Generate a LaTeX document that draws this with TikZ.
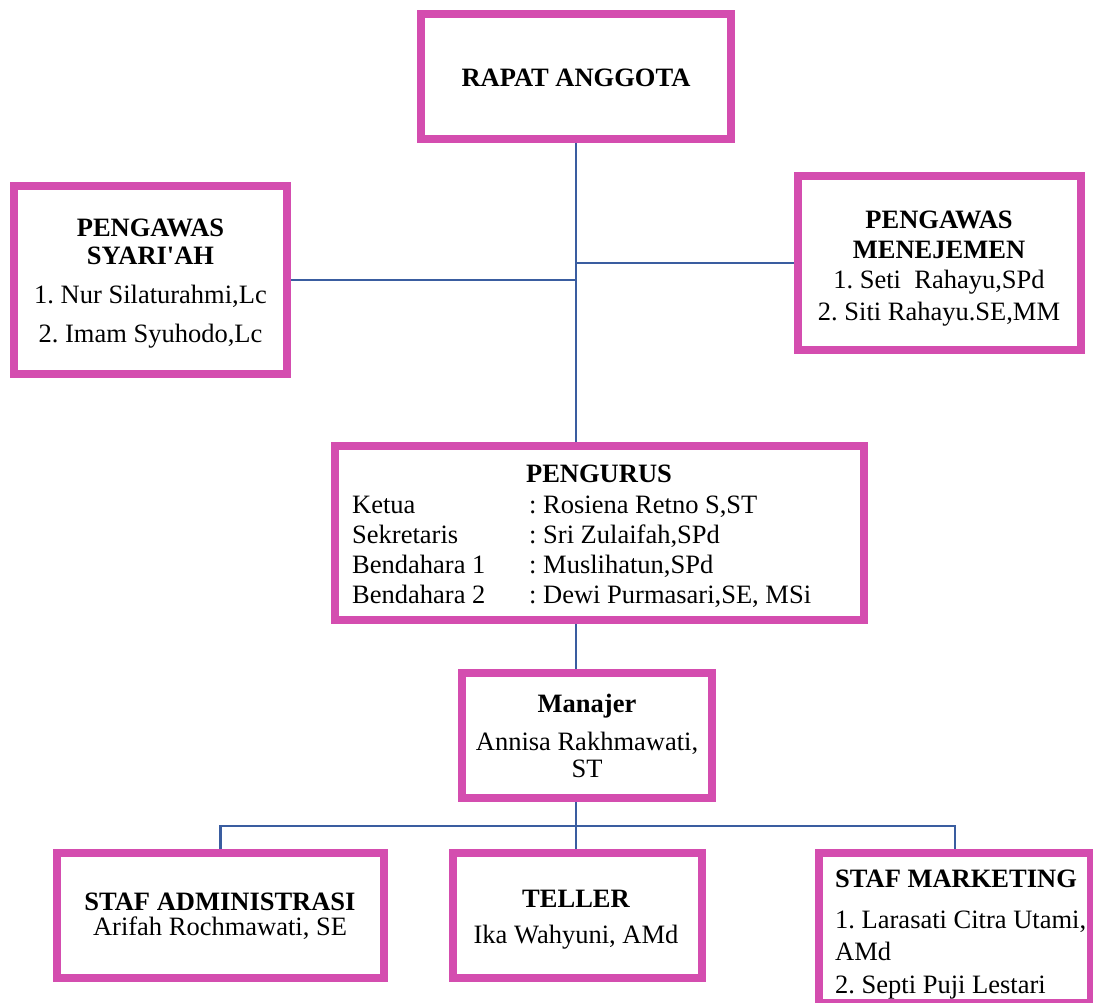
\documentclass[tikz,border=0pt]{standalone}
\usepackage{fontspec}
\setmainfont{Liberation Serif}
\definecolor{boxpink}{RGB}{212,77,175}
\definecolor{linkblue}{RGB}{58,93,160}
\frenchspacing
\begin{document}
\begin{tikzpicture}[x=1pt,y=-1pt,
  orgbox/.style={draw=boxpink, line width=8pt, fill=white, rectangle, inner sep=0pt, outer sep=4pt},
  link/.style={draw=linkblue, line width=2.5pt},
  txt/.style={anchor=base, inner sep=0pt, font=\fontsize{26.5}{30}\selectfont},
  btxt/.style={txt, font=\fontsize{26.5}{30}\selectfont\bfseries},
  ltxt/.style={txt, anchor=base west},
  lbtxt/.style={btxt, anchor=base west}]
\useasboundingbox (0,0) rectangle (1093,1002);
% boxes
\node[orgbox, minimum width=310pt, minimum height=125pt] (rapat) at (576,76.5) {};
\node[orgbox, minimum width=273pt, minimum height=188pt] (syariah) at (150.5,280) {};
\node[orgbox, minimum width=283pt, minimum height=174pt] (menej) at (939.5,263) {};
\node[orgbox, minimum width=529pt, minimum height=174pt] (pengurus) at (599.5,533) {};
\node[orgbox, minimum width=250pt, minimum height=125pt] (manajer) at (587,735.5) {};
\node[orgbox, minimum width=327pt, minimum height=125pt] (admin) at (220.5,915.5) {};
\node[orgbox, minimum width=249pt, minimum height=125pt] (teller) at (577.5,915.5) {};
\node[orgbox, minimum width=272pt, minimum height=150pt] (marketing) at (955,928) {};
% connectors
\coordinate (bus) at (576,826);
\draw[link] (rapat.south) -- (rapat.south |- pengurus.north);
\draw[link] (syariah.east) -- (syariah.east -| rapat.south);
\draw[link] (menej.west -| rapat.south) -- (menej.west);
\draw[link] (rapat.south |- pengurus.south) -- (rapat.south |- manajer.north);
\draw[link] (rapat.south |- manajer.south) -- (bus);
\draw[link] (admin.north) |- (bus) -| (marketing.north);
\draw[link] (bus) -- (bus |- teller.north);
% texts
\node[btxt] (t-rapat) at (576,86) {RAPAT ANGGOTA};
\node[btxt] (t-sy1) at (150.5,236) {PENGAWAS};
\node[btxt] (t-sy2) at (150.5,264) {SYARI\textquotesingle AH};
\node[txt] (t-sy3) at (150.5,303) {1. Nur Silaturahmi,Lc};
\node[txt] (t-sy4) at (150.5,342) {2. Imam Syuhodo,Lc};
\node[btxt] (t-mn1) at (939,228) {PENGAWAS};
\node[btxt] (t-mn2) at (939,258) {MENEJEMEN};
\node[txt] (t-mn3) at (939,288) {1. Seti~ Rahayu,SPd};
\node[txt] (t-mn4) at (939,320) {2. Siti Rahayu.SE,MM};
\node[btxt] (t-pg0) at (599,482) {PENGURUS};
\node[ltxt] (t-pg1) at (352,513) {Ketua};
\node[ltxt] (t-pg2) at (352,543) {Sekretaris};
\node[ltxt] (t-pg3) at (352,573) {Bendahara 1};
\node[ltxt] (t-pg4) at (352,603) {Bendahara 2};
\node[ltxt] (t-pv1) at (529,513) {: Rosiena Retno S,ST};
\node[ltxt] (t-pv2) at (529,543) {: Sri Zulaifah,SPd};
\node[ltxt] (t-pv3) at (529,573) {: Muslihatun,SPd};
\node[ltxt] (t-pv4) at (529,603) {: Dewi Purmasari,SE, MSi};
\node[btxt] (t-mj1) at (587,712) {Manajer};
\node[txt] (t-mj2) at (587,750) {Annisa Rakhmawati,};
\node[txt] (t-mj3) at (587,777) {ST};
\node[btxt] (t-ad1) at (220,910) {STAF ADMINISTRASI};
\node[txt] (t-ad2) at (220,935) {Arifah Rochmawati, SE};
\node[btxt] (t-tl1) at (576,907) {TELLER};
\node[txt] (t-tl2) at (576,943) {Ika Wahyuni, AMd};
\node[lbtxt] (t-mk1) at (835,887) {STAF MARKETING};
\node[ltxt] (t-mk2) at (835,928) {1. Larasati Citra Utami,};
\node[ltxt] (t-mk3) at (835,960) {AMd};
\node[ltxt] (t-mk4) at (835,993) {2. Septi Puji Lestari};
\end{tikzpicture}
\end{document}
